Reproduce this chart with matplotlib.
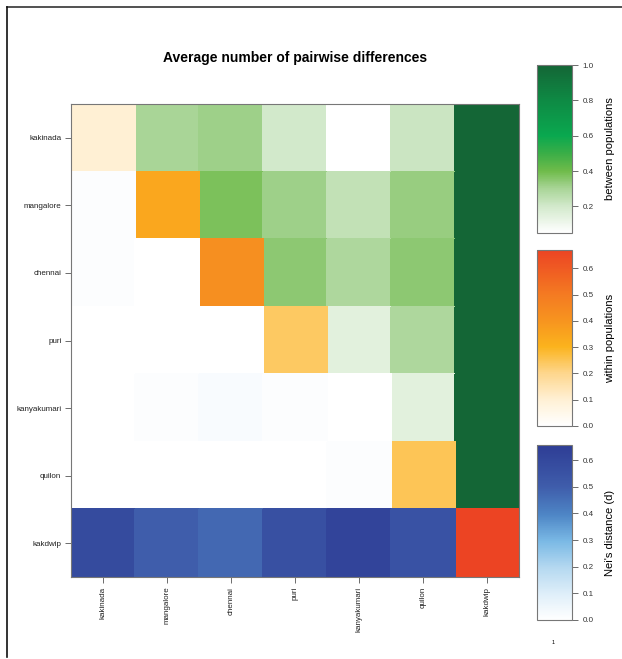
import numpy as np
import matplotlib
matplotlib.use("Agg")
import matplotlib.pyplot as plt
from matplotlib.colors import LinearSegmentedColormap, Normalize
from matplotlib.cm import ScalarMappable
from matplotlib.lines import Line2D

plt.rcParams["font.family"] = ["Liberation Sans", "DejaVu Sans"]

populations = ["kakinada", "mangalore", "chennai", "puri", "kanyakumari", "quilon", "kakdwip"]

# within-population values (diagonal)
within = [0.10, 0.34, 0.42, 0.24, 0.0, 0.25, 0.67]

# between-population values (upper triangle), row by row
between_rows = [
    [0.30, 0.32, 0.20, 0.05, 0.22, 1.0],   # kakinada vs mangalore..kakdwip
    [0.38, 0.32, 0.24, 0.33, 1.0],         # mangalore vs chennai..kakdwip
    [0.35, 0.29, 0.35, 1.0],               # chennai vs puri..kakdwip
    [0.15, 0.29, 1.0],                     # puri vs kanyakumari..kakdwip
    [0.15, 1.0],                           # kanyakumari vs quilon, kakdwip
    [1.0],                                 # quilon vs kakdwip
]

# Nei's distance (lower triangle), row by row
nei_rows = [
    [0.012],                                       # mangalore
    [0.012, 0.0],                                  # chennai
    [0.0, 0.0, 0.0],                               # puri
    [0.0, 0.012, 0.022, 0.012],                    # kanyakumari
    [0.0, 0.0, 0.0, 0.0, 0.012],                   # quilon
    [0.59, 0.50, 0.47, 0.56, 0.62, 0.55],          # kakdwip
]

n = len(populations)
B = np.full((n, n), np.nan)
W = np.full((n, n), np.nan)
N = np.full((n, n), np.nan)
for i in range(n):
    W[i, i] = within[i]
    for k, v in enumerate(between_rows[i] if i < n - 1 else []):
        B[i, i + 1 + k] = v
    if i > 0:
        for k, v in enumerate(nei_rows[i - 1]):
            N[i, k] = v

green = LinearSegmentedColormap.from_list("g", [
    (0.0, "#ffffff"), (0.158, "#d2e9cb"), (0.263, "#a9d597"), (0.368, "#6fbb4a"),
    (0.474, "#3aae47"), (0.579, "#0aa84f"), (0.789, "#0e8a44"), (1.0, "#146636")])
gnorm = Normalize(0.05, 1.0)
orange = LinearSegmentedColormap.from_list("o", [
    (0.0, "#ffffff"), (0.15, "#fff0d4"), (0.3, "#fed68c"), (0.45, "#fbb31d"),
    (0.6, "#f7941f"), (0.75, "#f47a22"), (1.0, "#ec4423")])
onorm = Normalize(0.0, 0.67)
blue = LinearSegmentedColormap.from_list("b", [
    (0.0, "#ffffff"), (0.15, "#deeef9"), (0.3, "#b4d8f0"), (0.45, "#7ab9e5"),
    (0.6, "#4e86c6"), (0.76, "#3f5dab"), (1.0, "#2e3d95")])
bnorm = Normalize(0.0, 0.657)

fig = plt.figure(figsize=(6.22, 6.59), dpi=100)
ax = fig.add_axes([71/622, 1-577/659, 448/622, 473/659])

x = np.arange(n + 1)
for M, cm, nm in [(B, green, gnorm), (W, orange, onorm), (N, blue, bnorm)]:
    ax.pcolormesh(x, x, np.ma.masked_invalid(M), cmap=cm, norm=nm,
                  edgecolors="face", linewidth=0.3, antialiased=False)
ax.set_xlim(0, n)
ax.set_ylim(n, 0)
ax.set_xticks(np.arange(n) + 0.5)
ax.set_yticks(np.arange(n) + 0.5)
ax.set_xticklabels(populations, rotation=90, fontsize=5.8, color="#222222")
ax.set_yticklabels(populations, fontsize=5.8, color="#222222")
ax.tick_params(length=4, width=0.6, color="#555555", pad=3)
for s in ax.spines.values():
    s.set_color("#777777")
    s.set_linewidth(0.8)

fig.text(295/622, 1-58/659, "Average number of pairwise differences",
         ha="center", va="center", fontsize=10, fontweight="bold")

cbars = [
    ([537/622, 1-233/659, 35/622, 168/659], green, gnorm, [0.2, 0.4, 0.6, 0.8, 1.0], "between populations"),
    ([537/622, 1-426/659, 35/622, 176/659], orange, onorm, [0.0, 0.1, 0.2, 0.3, 0.4, 0.5, 0.6], "within populations"),
    ([537/622, 1-620/659, 35/622, 175/659], blue, bnorm, [0.0, 0.1, 0.2, 0.3, 0.4, 0.5, 0.6], "Nei's distance (d)"),
]
for pos, cm, nm, ticks, lab in cbars:
    cax = fig.add_axes(pos)
    cb = fig.colorbar(ScalarMappable(norm=nm, cmap=cm), cax=cax)
    cb.set_ticks(ticks)
    cb.set_ticklabels([f"{t:.1f}" for t in ticks])
    cax.tick_params(labelsize=5.8, length=4, width=0.6, color="#555555", labelcolor="#333333")
    cb.outline.set_edgecolor("#777777")
    cb.outline.set_linewidth(0.8)
    cb.set_label(lab, fontsize=8, labelpad=8)

fig.add_artist(Line2D([7/622, 1.0], [1-7/659, 1-7/659], color="#333333", linewidth=1.2))
fig.add_artist(Line2D([7/622, 7/622], [1-7/659, 1-657/659], color="#111111", linewidth=1.2))
fig.text(553/622, 1-643/659, "1", fontsize=4, ha="center", va="center")

fig.savefig("out.png", dpi=100)
